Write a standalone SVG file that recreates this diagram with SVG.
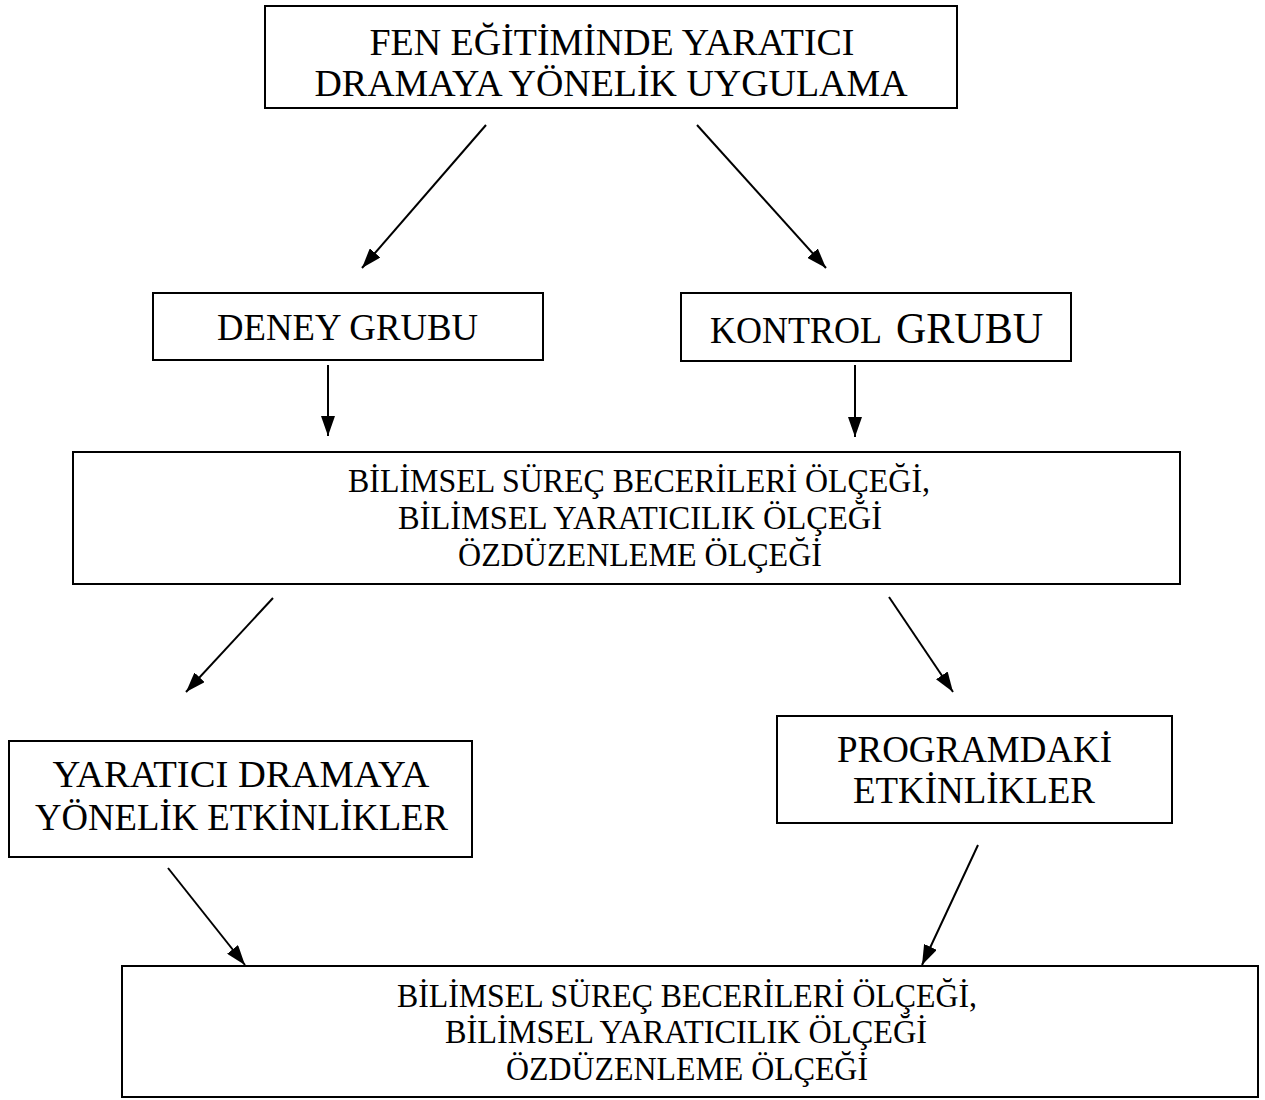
<svg xmlns="http://www.w3.org/2000/svg" width="1265" height="1100" viewBox="0 0 1265 1100">
<style>
.box{fill:#fff;stroke:#000;stroke-width:2}
.t{font-family:"Liberation Serif","Times New Roman",serif;fill:#000;text-anchor:middle}
.s{font-family:"Liberation Serif","Times New Roman",serif;fill:#000;text-anchor:start}
.big{font-size:37px}
.top{font-size:38px}
.sm{font-size:33px}
.edge{stroke:#000;stroke-width:2;fill:none;marker-end:url(#ah)}
</style>
<defs>
<marker id="ah" viewBox="0 0 20 14" refX="20" refY="7" markerWidth="20" markerHeight="14" markerUnits="userSpaceOnUse" orient="auto">
<path d="M0,0 L20,7 L0,14 z" fill="#000"/>
</marker>
</defs>
<rect width="1265" height="1100" fill="#fff"/>
<g id="n-top">
<rect class="box" x="265" y="6" width="692" height="102"/>
<text class="t top" x="612" y="55" textLength="485" lengthAdjust="spacingAndGlyphs">FEN EĞİTİMİNDE YARATICI</text>
<text class="t top" x="611" y="96" textLength="593" lengthAdjust="spacingAndGlyphs">DRAMAYA YÖNELİK UYGULAMA</text>
</g>
<g id="n-deney">
<rect class="box" x="153" y="293" width="390" height="67"/>
<text class="t" style="font-size:38px" x="347.5" y="340" textLength="261" lengthAdjust="spacingAndGlyphs">DENEY GRUBU</text>
</g>
<g id="n-kontrol">
<rect class="box" x="681" y="293" width="390" height="68"/>
<text class="s" style="font-size:37px" x="710" y="343" textLength="172" lengthAdjust="spacingAndGlyphs">KONTROL</text>
<text class="s" style="font-size:44px" x="896" y="343" textLength="147" lengthAdjust="spacingAndGlyphs">GRUBU</text>
</g>
<g id="n-olcek1">
<rect class="box" x="73" y="452" width="1107" height="132"/>
<text class="t sm" x="639" y="492" textLength="582" lengthAdjust="spacingAndGlyphs">BİLİMSEL SÜREÇ BECERİLERİ ÖLÇEĞİ,</text>
<text class="t sm" x="640" y="529" textLength="484" lengthAdjust="spacingAndGlyphs">BİLİMSEL YARATICILIK ÖLÇEĞİ</text>
<text class="t sm" x="640" y="566" textLength="364" lengthAdjust="spacingAndGlyphs">ÖZDÜZENLEME ÖLÇEĞİ</text>
</g>
<g id="n-drama">
<rect class="box" x="9" y="741" width="463" height="116"/>
<text class="t big" x="241" y="787" textLength="377" lengthAdjust="spacingAndGlyphs">YARATICI DRAMAYA</text>
<text class="t big" x="241.5" y="830" textLength="413" lengthAdjust="spacingAndGlyphs">YÖNELİK ETKİNLİKLER</text>
</g>
<g id="n-program">
<rect class="box" x="777" y="716" width="395" height="107"/>
<text class="t big" x="974.5" y="762" textLength="275" lengthAdjust="spacingAndGlyphs">PROGRAMDAKİ</text>
<text class="t big" x="974" y="803" textLength="242" lengthAdjust="spacingAndGlyphs">ETKİNLİKLER</text>
</g>
<g id="n-olcek2">
<rect class="box" x="122" y="966" width="1136" height="131"/>
<text class="t sm" x="687" y="1007" textLength="580" lengthAdjust="spacingAndGlyphs">BİLİMSEL SÜREÇ BECERİLERİ ÖLÇEĞİ,</text>
<text class="t sm" x="686" y="1043" textLength="482" lengthAdjust="spacingAndGlyphs">BİLİMSEL YARATICILIK ÖLÇEĞİ</text>
<text class="t sm" x="687" y="1080" textLength="362" lengthAdjust="spacingAndGlyphs">ÖZDÜZENLEME ÖLÇEĞİ</text>
</g>
<g id="connectors">
<line class="edge" x1="486" y1="125" x2="362" y2="268"/>
<line class="edge" x1="697" y1="125" x2="826" y2="268"/>
<line class="edge" x1="328" y1="365" x2="328" y2="436"/>
<line class="edge" x1="855" y1="365" x2="855" y2="437"/>
<line class="edge" x1="273" y1="598" x2="186" y2="692"/>
<line class="edge" x1="889" y1="597" x2="953" y2="692"/>
<line class="edge" x1="168" y1="868" x2="245" y2="965"/>
<line class="edge" x1="978" y1="845" x2="922" y2="965"/>
</g>
</svg>
